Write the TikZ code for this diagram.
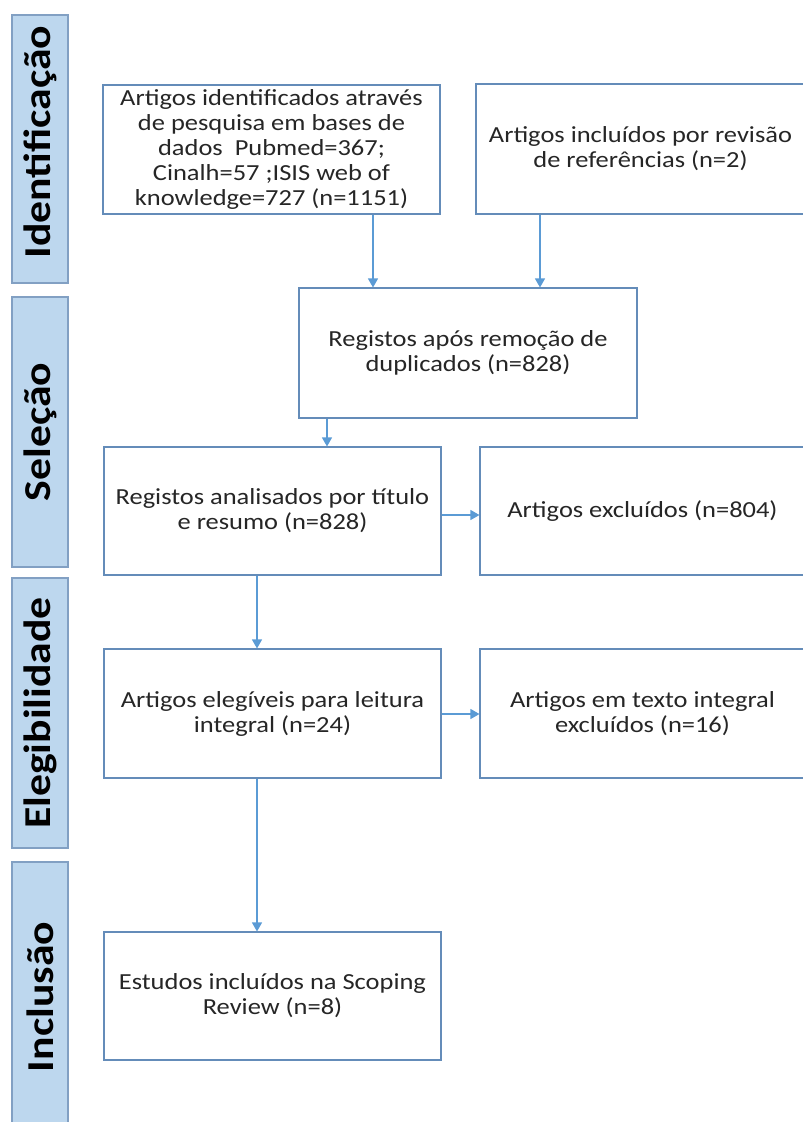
\documentclass[tikz,border=0pt]{standalone}
\usepackage{fontspec}
\setmainfont{Carlito}[FakeStretch=1.15]
\usetikzlibrary{arrows.meta}
\definecolor{bandfill}{RGB}{189,215,238}
\definecolor{bandline}{RGB}{130,160,195}
\definecolor{boxline}{RGB}{100,140,185}
\definecolor{arrowcol}{RGB}{91,155,213}
\tikzset{
  stagebox/.style={draw=boxline, line width=1.1pt, fill=white, inner sep=2pt,
    align=center, font=\fontsize{23}{25}\selectfont, text=black!85},
  band/.style={draw=bandline, line width=1.1pt, fill=bandfill, minimum width=56pt},
  bandlabel/.style={rotate=90, font=\fontsize{38}{40}\selectfont\bfseries, text=black},
  arr/.style={draw=arrowcol, line width=1.2pt, -{Triangle[width=10pt,length=9pt]}}
}
\begin{document}
\begin{tikzpicture}[x=1pt,y=-1pt]
\useasboundingbox (0,0) rectangle (803,1122);
\begin{scope}
\clip (0,0) rectangle (803,1122);
% side bands
\node[band, minimum height=268pt] (s1) at (40,149) {};
\node[bandlabel] (l1) at ([yshift=7pt]s1.center) {Identificação};
\node[band, minimum height=270pt] (s2) at (40,432) {};
\node[bandlabel] (l2) at (s2.center) {Seleção};
\node[band, minimum height=270pt] (s3) at (40,713) {};
\node[bandlabel] (l3) at (s3.center) {Elegibilidade};
\node[band, minimum height=270pt] (s4) at (40,997) {};
\node[bandlabel] (l4) at (s4.center) {Inclusão};

% boxes
\node[stagebox, minimum width=337pt, minimum height=129pt] (b1) at (271.5,149.5)
  {Artigos identificados através\\de pesquisa em bases de\\dados\ \ Pubmed=367;\\Cinalh=57 ;ISIS web of\\knowledge=727 (n=1151)};
\node[stagebox, minimum width=329pt, minimum height=130pt] (b2) at (640.5,149)
  {Artigos incluídos por revisão\\de referências (n=2)};
\node[stagebox, minimum width=338pt, minimum height=130pt] (b3) at (468,353)
  {Registos após remoção de\\duplicados (n=828)};
\node[stagebox, minimum width=337pt, minimum height=128pt] (b4) at (272.5,511)
  {Registos analisados por título\\e resumo (n=828)};
\node[stagebox, minimum width=325pt, minimum height=128pt] (b5) at (642.5,511)
  {Artigos excluídos (n=804)};
\node[stagebox, minimum width=337pt, minimum height=129pt] (b6) at (272.5,713.5)
  {Artigos elegíveis para leitura\\integral (n=24)};
\node[stagebox, minimum width=325pt, minimum height=129pt] (b7) at (642.5,713.5)
  {Artigos em texto integral\\excluídos (n=16)};
\node[stagebox, minimum width=337pt, minimum height=128pt] (b8) at (272.5,996)
  {Estudos incluídos na Scoping\\Review (n=8)};

% connector columns / rows
\coordinate (c1) at (373,0);
\coordinate (c2) at (540,0);
\coordinate (c3) at (327,0);
\coordinate (c4) at (257,0);
\coordinate (r1) at (0,515);
\coordinate (r2) at (0,714);

\draw[arr] (b1.south -| c1) -- (b3.north -| c1);
\draw[arr] (b2.south -| c2) -- (b3.north -| c2);
\draw[arr] (b3.south -| c3) -- (b4.north -| c3);
\draw[arr] (b4.east |- r1) -- (b5.west |- r1);
\draw[arr] (b4.south -| c4) -- (b6.north -| c4);
\draw[arr] (b6.east |- r2) -- (b7.west |- r2);
\draw[arr] (b6.south -| c4) -- (b8.north -| c4);
\end{scope}
\end{tikzpicture}
\end{document}
